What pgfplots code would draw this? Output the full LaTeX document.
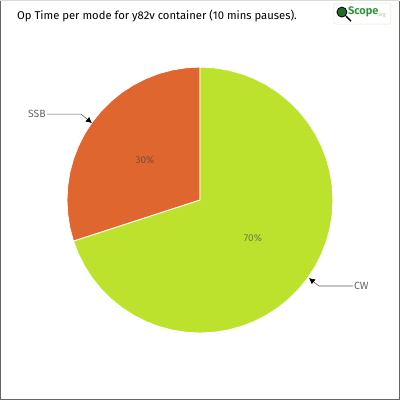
\documentclass[border=0pt]{standalone}
\usepackage{pgfplots}
\pgfplotsset{compat=1.18}
\usepgfplotslibrary{polar}
\usetikzlibrary{arrows.meta}
\usepackage{fontspec}
\setmainfont{Fira Sans}
\definecolor{ssbcol}{RGB}{224,102,48}
\definecolor{cwcol}{RGB}{189,226,46}
\definecolor{lblcol}{RGB}{100,100,100}
\definecolor{logogreen}{RGB}{46,150,60}
\begin{document}
\begin{tikzpicture}
\begin{axis}[
    width=400bp, height=400bp,
    scale only axis,
    hide axis,
    clip=false,
    xmin=-200, xmax=200,
    ymin=-200, ymax=200,
]
% frame
\draw[gray!30, line width=1pt] (axis cs:-199.5,199.5) -- (axis cs:199.5,199.5);
\draw[gray!80!black, line width=1.2pt] (axis cs:-199.4,199.5) -- (axis cs:-199.4,-199.4) -- (axis cs:199.4,-199.4) -- (axis cs:199.4,199.5);

% SSB 30% wedge (polar: angle, radius)
\addplot[fill=ssbcol, draw=white, line width=0.8pt, data cs=polar] coordinates {
(0,0) (90,133) (96,133) (102,133) (108,133) (114,133) (120,133) (126,133)
(132,133) (138,133) (144,133) (150,133) (156,133) (162,133) (168,133)
(174,133) (180,133) (186,133) (192,133) (198,133) (0,0)
};
% CW 70% wedge
\addplot[fill=cwcol, draw=white, line width=0.8pt, data cs=polar] coordinates {
(0,0) (198,133) (204,133) (210,133) (216,133) (222,133) (228,133) (234,133)
(240,133) (246,133) (252,133) (258,133) (264,133) (270,133) (276,133)
(282,133) (288,133) (294,133) (300,133) (306,133) (312,133) (318,133)
(324,133) (330,133) (336,133) (342,133) (348,133) (354,133) (360,133)
(366,133) (372,133) (378,133) (384,133) (390,133) (396,133) (402,133)
(408,133) (414,133) (420,133) (426,133) (432,133) (438,133) (444,133)
(450,133) (0,0)
};

% leader lines
\addplot[gray!70!black, line width=0.6pt, -{Latex[length=6pt,width=6pt,black]}] coordinates {(-153,86) (-119,86) (-108,77)};
\addplot[gray!70!black, line width=0.6pt, -{Latex[length=6pt,width=6pt,black]}] coordinates {(153,-86) (119,-86) (109,-78)};

\node[anchor=east, text=lblcol, font=\fontsize{10.5}{12}\selectfont, inner sep=1pt] at (axis cs:-153,86) {SSB};
\node[anchor=west, text=lblcol, font=\fontsize{10.5}{12}\selectfont, inner sep=1pt] at (axis cs:153,-86) {CW};

\node[text={rgb,255:red,110;green,80;blue,60}, font=\fontsize{10}{11}\selectfont] at (axis cs:-55,40) {30\%};
\node[text={rgb,255:red,110;green,130;blue,60}, font=\fontsize{10}{11}\selectfont] at (axis cs:53,-38) {70\%};

% title
\node[anchor=base west, inner sep=0pt, font=\fontsize{11.3}{13}\selectfont] at (axis cs:-183,181) {Op Time per mode for y82v container (10 mins pauses).};

% logo
\draw[rounded corners=2pt, draw={rgb,255:red,225;green,235;blue,200}, line width=0.5pt] (axis cs:134,197) rectangle (axis cs:191,176);
\draw[black, line width=1.5pt] (axis cs:146,184) -- (axis cs:151,179);
\fill[logogreen!70!black] (axis cs:142,188) circle (5bp);
\draw[black, line width=0.8pt] (axis cs:142,188) circle (5bp);
\node[anchor=west, inner sep=0pt, text=logogreen, font=\bfseries\fontsize{11}{12}\selectfont] at (axis cs:148,188) {Scope};
\node[anchor=west, inner sep=0pt, text=logogreen!50, font=\fontsize{5}{6}\selectfont] at (axis cs:177,185) {.org};
\end{axis}
\end{tikzpicture}
\end{document}
